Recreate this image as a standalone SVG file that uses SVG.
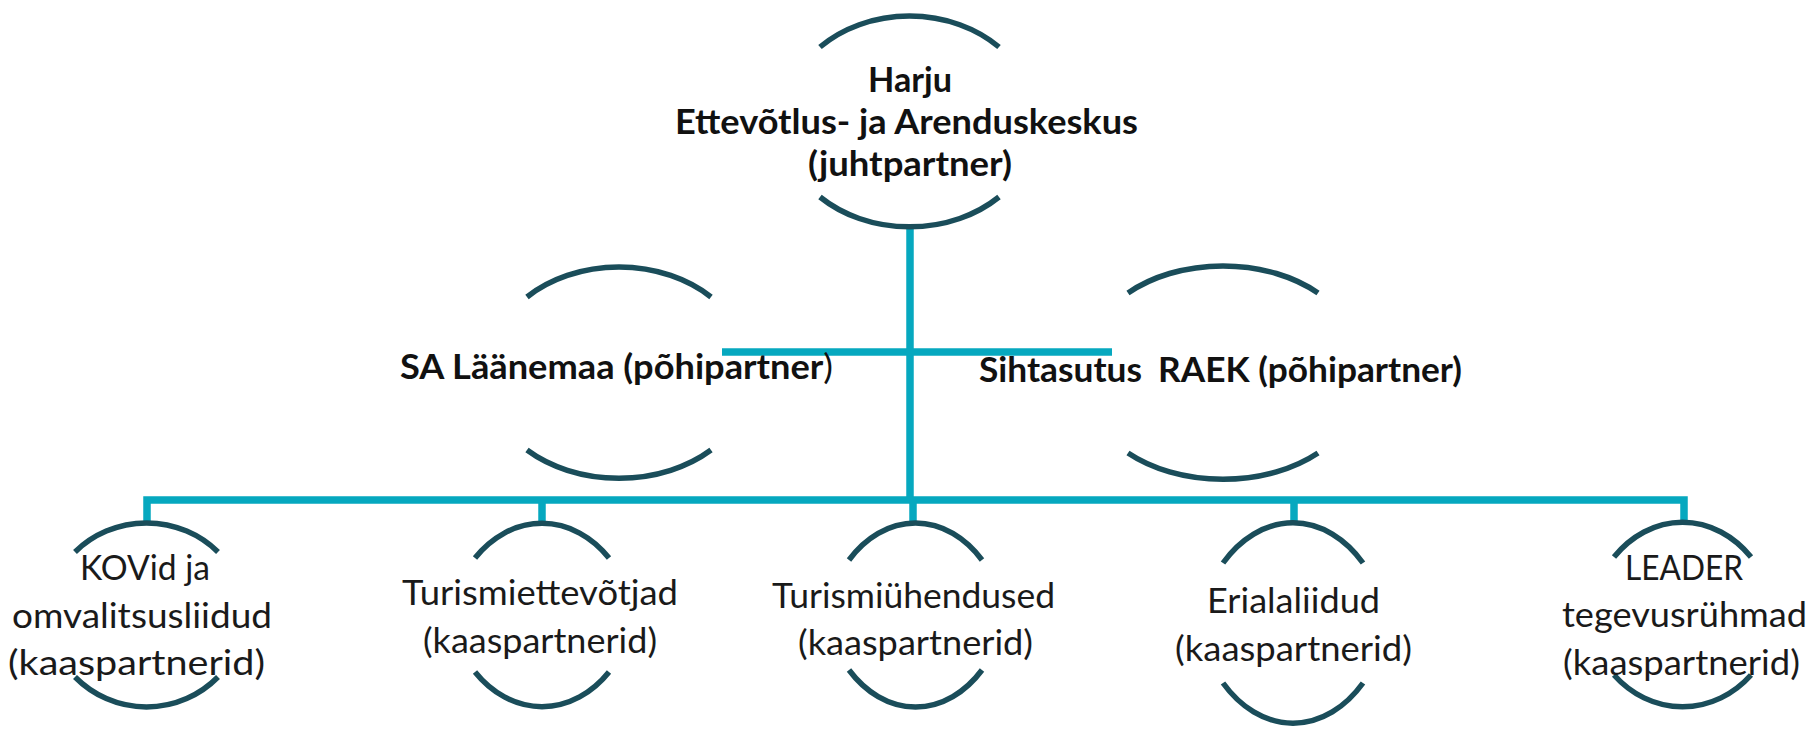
<svg xmlns="http://www.w3.org/2000/svg" width="1811" height="730" viewBox="0 0 1811 730">
<style>
.arc{fill:none;stroke:#1A4D5A;stroke-width:5.5;stroke-linecap:butt}
.con{fill:none;stroke:#06A8BF;stroke-width:7.5;stroke-linejoin:miter}
.b{font-family:Lato,"Open Sans","Liberation Sans",sans-serif;font-weight:bold;font-size:34px;fill:#111}
.r{font-family:Lato,"Open Sans","Liberation Sans",sans-serif;font-size:34px;fill:#1a1a1a}
</style>
<rect width="1811" height="730" fill="#fff"/>
<g id="connectors">
<line class="con" x1="910" y1="226" x2="910" y2="500"/>
<line class="con" x1="722" y1="352" x2="1112" y2="352"/>
<polyline class="con" points="147,521 147,500 1684,500 1684,520"/>
<line class="con" x1="542" y1="500" x2="542" y2="521"/>
<line class="con" x1="913" y1="500" x2="913" y2="521"/>
<line class="con" x1="1294" y1="500" x2="1294" y2="521"/>
</g>
<g id="node-harju">
<path class="arc" d="M820 47 A126.6 105.8 0 0 1 999 47"/>
<path class="arc" d="M820 197 A126.6 102 0 0 0 999 197"/>
<text class="b" lengthAdjust="spacingAndGlyphs"><tspan x="868" y="92" textLength="84" lengthAdjust="spacingAndGlyphs">Harju</tspan><tspan x="675" y="134" textLength="463" lengthAdjust="spacingAndGlyphs">Ettevõtlus- ja Arenduskeskus</tspan><tspan x="808" y="176" textLength="204" lengthAdjust="spacingAndGlyphs">(juhtpartner)</tspan></text>
</g>
<g id="node-laanemaa">
<path class="arc" d="M527 297 A130 102 0 0 1 711 297"/>
<path class="arc" d="M527 450 A130 96 0 0 0 711 450"/>
<text class="b" x="400" y="379" textLength="433" lengthAdjust="spacingAndGlyphs">SA Läänemaa (põhipartner<tspan font-weight="normal">)</tspan></text>
</g>
<g id="node-raek">
<path class="arc" d="M1128 293 A134 92 0 0 1 1318 293"/>
<path class="arc" d="M1128 453 A134 89 0 0 0 1318 453"/>
<text class="b"><tspan x="979" y="382" textLength="163" lengthAdjust="spacingAndGlyphs">Sihtasutus</tspan> <tspan x="1158" y="382" textLength="304" lengthAdjust="spacingAndGlyphs">RAEK (põhipartner)</tspan></text>
</g>
<g id="node-kov">
<path class="arc" d="M75 552 A101 99 0 0 1 218 552"/>
<path class="arc" d="M75 677 A101 102 0 0 0 218 677"/>
<text class="r"><tspan x="80" y="580" textLength="130" lengthAdjust="spacingAndGlyphs">KOVid ja</tspan><tspan x="12" y="628" textLength="260" lengthAdjust="spacingAndGlyphs">omvalitsusliidud</tspan><tspan x="8" y="675" textLength="257" lengthAdjust="spacingAndGlyphs">(kaaspartnerid)</tspan></text>
</g>
<g id="node-turismiettevotjad">
<path class="arc" d="M475 558 A95 119 0 0 1 609 558"/>
<path class="arc" d="M475 672 A95 119 0 0 0 609 672"/>
<text class="r"><tspan x="402" y="605" textLength="276" lengthAdjust="spacingAndGlyphs">Turismiettevõtjad</tspan><tspan x="423" y="653" textLength="234" lengthAdjust="spacingAndGlyphs">(kaaspartnerid)</tspan></text>
</g>
<g id="node-turismiuhendused">
<path class="arc" d="M849 560 A94 126 0 0 1 982 560"/>
<path class="arc" d="M849 670 A94 126 0 0 0 982 670"/>
<text class="r"><tspan x="772" y="608" textLength="283" lengthAdjust="spacingAndGlyphs">Turismiühendused</tspan><tspan x="798" y="655" textLength="235" lengthAdjust="spacingAndGlyphs">(kaaspartnerid)</tspan></text>
</g>
<g id="node-erialaliidud">
<path class="arc" d="M1223 563 A99 137 0 0 1 1363 563"/>
<path class="arc" d="M1223 683 A99 137 0 0 0 1363 683"/>
<text class="r"><tspan x="1207" y="613" textLength="173" lengthAdjust="spacingAndGlyphs">Erialaliidud</tspan><tspan x="1175" y="661" textLength="237" lengthAdjust="spacingAndGlyphs">(kaaspartnerid)</tspan></text>
</g>
<g id="node-leader">
<path class="arc" d="M1614 557 A97 119 0 0 1 1751 557"/>
<path class="arc" d="M1614 675 A97 109 0 0 0 1751 675"/>
<text class="r"><tspan x="1625" y="580" textLength="118" lengthAdjust="spacingAndGlyphs">LEADER</tspan><tspan x="1562" y="627" textLength="245" lengthAdjust="spacingAndGlyphs">tegevusrühmad</tspan><tspan x="1563" y="675" textLength="237" lengthAdjust="spacingAndGlyphs">(kaaspartnerid)</tspan></text>
</g>
</svg>
